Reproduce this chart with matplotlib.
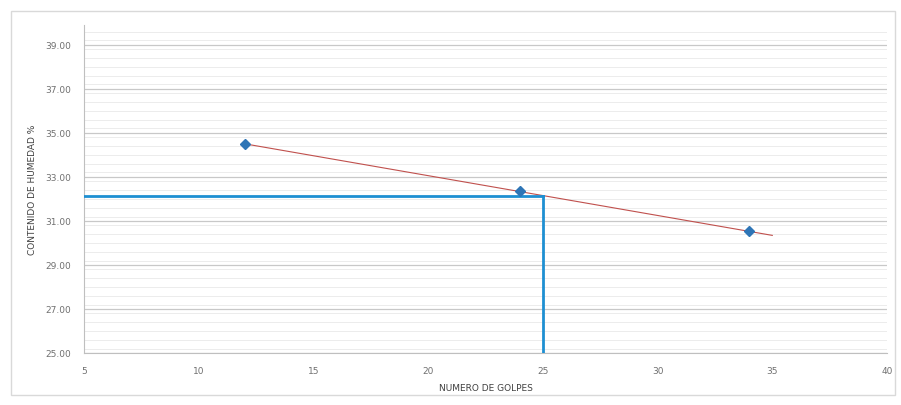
import numpy as np
import matplotlib
matplotlib.use("Agg")
import matplotlib.pyplot as plt
from matplotlib.ticker import MultipleLocator, FormatStrFormatter
from matplotlib.patches import Rectangle

golpes = [12, 24, 34]
humedad = [34.5, 32.34, 30.52]
x_ticks = [5, 10, 15, 20, 25, 30, 35, 40]
y_ticks = [25, 27, 29, 31, 33, 35, 37, 39]
golpes_ref = 25
trend_end = 35

fig = plt.figure(figsize=(9.01, 4.06), dpi=100)
ax = fig.add_axes([84/901, 1-354/406, (887-84)/901, (354-26)/406])

# chart border
fig.patches.append(Rectangle((11/901, 10/406), 884/901, 384/406, transform=fig.transFigure,
                             fill=False, edgecolor="#d9d9d9", linewidth=1.0))

# linear trendline fit
coef = np.polyfit(golpes, humedad, 1)
xt = np.linspace(golpes[0], trend_end, 100)
yt = np.polyval(coef, xt)
ll = np.polyval(coef, golpes_ref)

ax.set_xlim(5, 40)
ax.set_ylim(25, 39.9)
ax.xaxis.set_major_locator(MultipleLocator(5))
ax.set_yticks(y_ticks)
ax.yaxis.set_minor_locator(MultipleLocator(0.4))
ax.yaxis.set_major_formatter(FormatStrFormatter("%.2f"))
ax.set_xticks(x_ticks)
ax.grid(True, which="major", axis="y", color="#c8c8c8", linewidth=0.9)
ax.grid(True, which="minor", axis="y", color="#ececec", linewidth=0.7)
ax.set_axisbelow(True)
for s in ["top", "right"]:
    ax.spines[s].set_visible(False)
for s in ["left", "bottom"]:
    ax.spines[s].set_color("#bfbfbf")
ax.tick_params(axis="both", which="both", length=0, labelsize=6.5, colors="#707070", pad=9)
ax.tick_params(axis="y", which="minor", length=0)

ax.plot(xt, yt, color="#c0504d", linewidth=0.8, zorder=3)
ax.plot([5, golpes_ref], [ll, ll], color="#1e8fd2", linewidth=2.0, zorder=4)
ax.plot([golpes_ref, golpes_ref], [25, ll], color="#1e8fd2", linewidth=2.0, zorder=4)
ax.plot(golpes, humedad, linestyle="none", marker="D", markersize=5, color="#2e75b6", zorder=5)

ax.set_xlabel("NUMERO DE GOLPES", fontsize=6.5, color="#404040", labelpad=6)
ax.set_ylabel("CONTENIDO DE HUMEDAD %", fontsize=6.5, color="#404040", labelpad=6)

fig.savefig("out.png", dpi=100)
